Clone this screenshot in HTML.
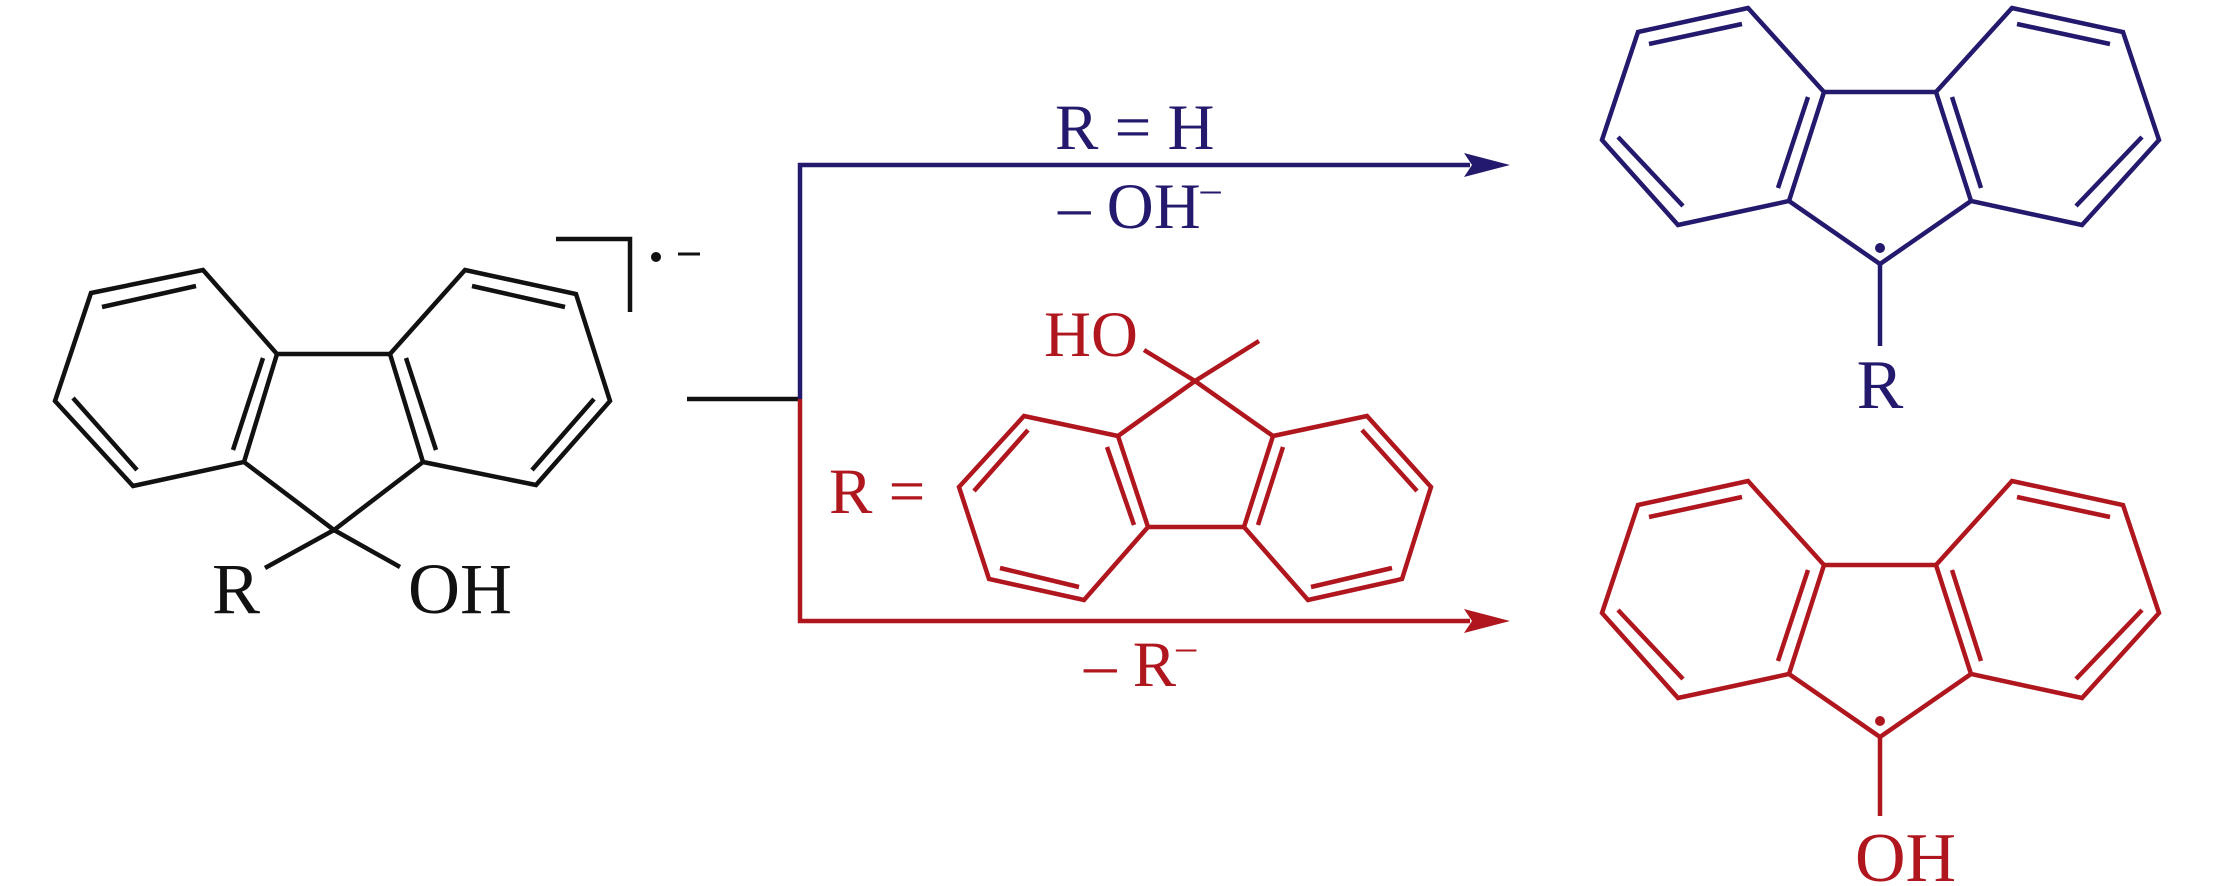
<!DOCTYPE html>
<html><head><meta charset="utf-8"><style>
html,body{margin:0;padding:0;background:#fff;}
svg{display:block;}
text{font-family:"Liberation Serif",serif;}
</style></head><body>
<svg width="2213" height="886" viewBox="0 0 2213 886" xmlns="http://www.w3.org/2000/svg">
<!-- Black reactant -->
<g stroke="#111" stroke-width="4.5" fill="none" stroke-linejoin="miter">
<polygon points="91,293 203,270 277,354 244,462 133,486 55,401"/>
<polygon points="390,354 465,270 576,294 610,401 536,485 423,462"/>
<polyline points="277,354 390,354"/>
<polyline points="244,462 334,530 423,462"/>
<line x1="102" y1="307" x2="196" y2="286"/>
<line x1="73" y1="398" x2="137" y2="470"/>
<line x1="263" y1="358" x2="233" y2="450"/>
<line x1="472" y1="286" x2="565" y2="307"/>
<line x1="594" y1="399" x2="532" y2="470"/>
<line x1="406" y1="358" x2="436" y2="450"/>
<line x1="334" y1="530" x2="265" y2="568"/>
<line x1="334" y1="530" x2="400" y2="567"/>
<polyline points="556,239 630,239 630,312"/>
<line x1="687" y1="399" x2="800" y2="399"/>
</g>
<circle cx="656" cy="257" r="5" fill="#111"/>
<line x1="678" y1="254" x2="700" y2="254" stroke="#111" stroke-width="3"/>
<text x="212" y="613" font-size="72" fill="#111">R</text>
<text x="408" y="613" font-size="72" fill="#111">OH</text>

<!-- Blue branch -->
<g stroke="#231a6e" stroke-width="4.5" fill="none">
<polyline points="800,399 800,165 1470,165"/>
</g>
<polygon points="1510,165 1464,153 1472,165 1464,177" fill="#231a6e"/>
<text x="1055" y="149" font-size="65" fill="#231a6e">R = H</text>
<text x="1058" y="228" font-size="65" fill="#231a6e">– OH<tspan font-size="40" dy="-26">–</tspan></text>

<!-- Red branch -->
<g stroke="#b0161e" stroke-width="4.5" fill="none">
<polyline points="800,399 800,621 1470,621"/>
</g>
<polygon points="1510,621 1464,609 1472,621 1464,633" fill="#b0161e"/>
<text x="1084" y="686" font-size="65" fill="#b0161e">– R<tspan font-size="40" dy="-26">–</tspan></text>
<text x="829" y="513" font-size="65" fill="#b0161e">R =</text>
<text x="1044" y="356" font-size="65" fill="#b0161e">HO</text>
<g stroke="#b0161e" stroke-width="4.5" fill="none">
<polygon points="1118,436 1024,416 959,487 989,579 1084,600 1148,527"/>
<polygon points="1273,436 1367,416 1431,487 1402,579 1308,600 1244,527"/>
<line x1="1148" y1="527" x2="1244" y2="527"/>
<polyline points="1118,436 1195,381 1273,436"/>
<line x1="1195" y1="381" x2="1259" y2="341"/>
<line x1="1195" y1="381" x2="1144" y2="350"/>
<line x1="1028" y1="430" x2="974" y2="491"/>
<line x1="1000" y1="568" x2="1079" y2="587"/>
<line x1="1107" y1="447" x2="1134" y2="525"/>
<line x1="1362" y1="430" x2="1417" y2="491"/>
<line x1="1392" y1="568" x2="1311" y2="587"/>
<line x1="1283" y1="447" x2="1258" y2="525"/>
</g>

<!-- Blue product -->
<g stroke="#231a6e" stroke-width="4.5" fill="none">
<polygon points="1638,32 1748,8 1824,92 1789,201 1678,225 1602,140"/>
<polygon points="1936,92 2012,8 2123,32 2159,140 2082,225 1971,201"/>
<line x1="1824" y1="92" x2="1936" y2="92"/>
<polyline points="1789,201 1880,264 1971,201"/>
<line x1="1649" y1="44" x2="1742" y2="24"/>
<line x1="1618" y1="137" x2="1683" y2="206"/>
<line x1="1808" y1="97" x2="1778" y2="188"/>
<line x1="2017" y1="24" x2="2110" y2="44"/>
<line x1="2142" y1="137" x2="2076" y2="206"/>
<line x1="1952" y1="97" x2="1981" y2="188"/>
<line x1="1880" y1="264" x2="1880" y2="346"/>
</g>
<circle cx="1880" cy="248" r="5" fill="#231a6e"/>
<text x="1880" y="408" font-size="70" fill="#231a6e" text-anchor="middle">R</text>

<!-- Red product -->
<g stroke="#b0161e" stroke-width="4.5" fill="none" transform="translate(0,473)">
<polygon points="1638,32 1748,8 1824,92 1789,201 1678,225 1602,140"/>
<polygon points="1936,92 2012,8 2123,32 2159,140 2082,225 1971,201"/>
<line x1="1824" y1="92" x2="1936" y2="92"/>
<polyline points="1789,201 1880,264 1971,201"/>
<line x1="1649" y1="44" x2="1742" y2="24"/>
<line x1="1618" y1="137" x2="1683" y2="206"/>
<line x1="1808" y1="97" x2="1778" y2="188"/>
<line x1="2017" y1="24" x2="2110" y2="44"/>
<line x1="2142" y1="137" x2="2076" y2="206"/>
<line x1="1952" y1="97" x2="1981" y2="188"/>
<line x1="1880" y1="264" x2="1880" y2="343"/>
</g>
<circle cx="1880" cy="721" r="5" fill="#b0161e"/>
<text x="1855" y="881" font-size="70" fill="#b0161e">OH</text>
</svg>
</body></html>
